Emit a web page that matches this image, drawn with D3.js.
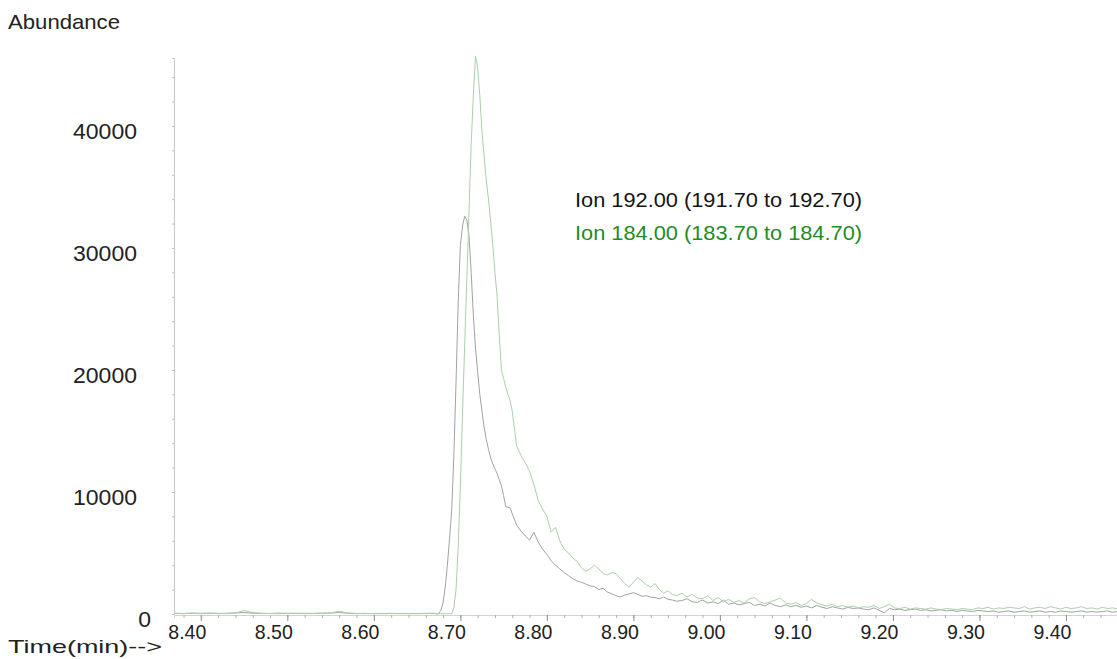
<!DOCTYPE html>
<html>
<head>
<meta charset="utf-8">
<script src="https://cdn.jsdelivr.net/npm/d3@7"></script>
<style>
  html, body { margin: 0; padding: 0; background: #fff; }
  svg { display: block; font-family: "Liberation Sans", Arial, sans-serif; }
</style>
</head>
<body>
<svg id="chart" width="1117" height="659"></svg>
<script>
// retention time grid (min), shared by both ion traces
const times = [
  8.370, 8.380, 8.390, 8.400, 8.410, 8.420, 8.430, 8.440, 8.450, 8.460,
  8.470, 8.480, 8.490, 8.500, 8.510, 8.520, 8.530, 8.540, 8.550, 8.560,
  8.570, 8.580, 8.590, 8.600, 8.610, 8.620, 8.630, 8.640, 8.650, 8.660, 8.670,
  8.6725, 8.675, 8.6775, 8.680, 8.6825, 8.685, 8.6875, 8.690, 8.6925, 8.695,
  8.6975, 8.700, 8.7025, 8.705, 8.7075, 8.710, 8.7125, 8.715, 8.7175, 8.720,
  8.7225, 8.725, 8.7275, 8.730, 8.7325, 8.735, 8.7375, 8.740, 8.7425, 8.745,
  8.7475, 8.750, 8.7525, 8.755, 8.7575, 8.760,
  8.765, 8.770, 8.775, 8.780, 8.785, 8.790, 8.795, 8.800, 8.805, 8.810,
  8.815, 8.820, 8.825, 8.830, 8.835, 8.840, 8.845, 8.850, 8.855, 8.860,
  8.865, 8.870, 8.875, 8.880, 8.885, 8.890, 8.895, 8.900, 8.905, 8.910,
  8.915, 8.920, 8.925, 8.930, 8.935, 8.940, 8.945, 8.950,
  8.956, 8.962, 8.968, 8.974, 8.980, 8.986, 8.992, 8.998, 9.004, 9.010,
  9.016, 9.022, 9.028, 9.034, 9.040, 9.046, 9.052, 9.058, 9.064, 9.070,
  9.076, 9.082, 9.088, 9.094, 9.100, 9.106, 9.112, 9.118, 9.124, 9.130,
  9.136, 9.142, 9.148, 9.154, 9.160, 9.166, 9.172, 9.178, 9.184, 9.190,
  9.196, 9.202, 9.208, 9.214, 9.220, 9.226, 9.232, 9.238, 9.244, 9.250,
  9.256, 9.262, 9.268, 9.274, 9.280, 9.286, 9.292, 9.298, 9.304, 9.310,
  9.316, 9.322, 9.328, 9.334, 9.340, 9.346, 9.352, 9.358, 9.364, 9.370,
  9.376, 9.382, 9.388, 9.394, 9.400, 9.406, 9.412, 9.418, 9.424, 9.430,
  9.436, 9.442, 9.448, 9.454, 9.460
];

// Ion 192.00 (black trace)
const ion192 = [
  60, 40, 80, 50, 70, 40, 60, 90, 120, 60,
  50, 40, 70, 50, 60, 40, 50, 70, 80, 120,
  60, 40, 50, 30, 40, 50, 40, 30, 40, 50, 60,
  0, 50, 300, 900, 2200, 4000, 6200, 8500, 13000, 19000,
  25500, 30200, 31800, 32600, 32300, 31000, 28000, 24500, 21800, 19800,
  18000, 16600, 15300, 14300, 13500, 12800, 12300, 11900, 11500, 11000,
  10500, 9700, 8800, 8750, 8700, 8200,
  7300, 6800, 6400, 6050, 6700, 5900, 5300, 4900, 4350, 4000,
  3700, 3400, 3150, 2900, 2700, 2600, 2450, 2300, 2250, 2000,
  2100, 1800, 1650, 1500, 1400, 1550, 1650, 1750, 1600, 1450,
  1500, 1380, 1350, 1250, 1400, 1200, 1150, 1050,
  1100, 1250, 1000, 950, 1150, 900, 1000, 850, 1150, 800,
  900, 750, 850, 950, 700, 800, 650, 900, 700, 600,
  750, 600, 700, 550, 650, 500, 700, 550, 450, 600,
  500, 400, 550, 450, 500, 400, 350, 500, 300, 100,
  450, 350, 400, 300, 350, 400, 300, 350, 250, 300,
  350, 250, 300, 200, 300, 250, 200, 300, 250, 200,
  250, 150, 200, 250, 150, 200, 250, 150, 200, 250,
  150, 200, 150, 250, 200, 150, 200, 250, 150, 200,
  150, 200, 250, 150, 200
];

// Ion 184.00 (green trace)
const ion184 = [
  40, 30, 50, 40, 60, 50, 40, 90, 280, 120,
  50, 40, 30, 50, 40, 60, 40, 50, 90, 230,
  80, 40, 30, 40, 30, 40, 30, 40, 30, 40, 30,
  30, 20, 30, 20, 30, 20, 30, 0, 500, 2000,
  5500, 10500, 16500, 22000, 27500, 33000, 38500, 42500, 45700, 44800,
  42500, 39500, 37500, 35500, 34000, 32200, 30200, 28000, 26000, 22800,
  20000, 19300, 18600, 18000, 17500, 16600,
  13800, 13000, 12400, 11700, 10600, 9300, 8600, 8000, 6700, 7100,
  6000, 5300, 5000, 4600, 4300, 3800, 3500, 3700, 4000, 3700,
  3300, 3200, 3400, 3300, 2900, 2500, 2200, 2600, 3000, 2700,
  2400, 2200, 2500, 2000, 1700, 1900, 1600, 1500,
  1700, 1400, 1600, 1300, 1250, 1500, 1100, 1350, 1000, 1200,
  950, 1100, 900, 1250, 1350, 1000, 850, 1000, 1150, 1300,
  900, 800, 950, 700, 850, 1200, 900, 750, 650, 800,
  600, 700, 550, 650, 500, 600, 550, 700, 450, 600,
  800, 500, 450, 550, 400, 500, 450, 400, 500, 400,
  350, 450, 400, 350, 450, 400, 350, 500, 450, 550,
  400, 500, 450, 550, 500, 450, 600, 400, 500, 550,
  450, 600, 500, 400, 550, 450, 500, 600, 450, 500,
  400, 550, 450, 500, 400
];

const legendLabels = ["Ion 192.00 (191.70 to 192.70)", "Ion 184.00 (183.70 to 184.70)"];
const seriesColors = ["#a2a2a2", "#abd0ab"];
const legendColors = ["#151515", "#1f8c1f"];

const xTickValues = [8.40, 8.50, 8.60, 8.70, 8.80, 8.90, 9.00, 9.10, 9.20, 9.30, 9.40];
const xTickLabels = ["8.40", "8.50", "8.60", "8.70", "8.80", "8.90", "9.00", "9.10", "9.20", "9.30", "9.40"];
const yTickValues = [0, 10000, 20000, 30000, 40000];
const yTickLabels = ["0", "10000", "20000", "30000", "40000"];

const svg = d3.select('#chart');
const fontFamily = '"Liberation Sans", Arial, sans-serif';

const x = d3.scaleLinear().domain([8.369, 9.459]).range([174, 1117]);
const y = d3.scaleLinear().domain([0, 45570]).range([614, 58]);

// minor ticks every 0.02 min / 2000 counts
const xMinor = d3.range(8.38, 9.459, 0.02);
const yMinor = d3.range(2000, 45570, 2000);

// x axis: minor ticks
svg.append('g')
    .attr('transform', `translate(0,${y(0) + 1})`)
    .call(d3.axisBottom(x).tickValues(xMinor).tickSize(3).tickFormat(''))
    .call(g => g.select('.domain').attr('stroke', '#cbd8cb'))
    .call(g => g.selectAll('.tick line').attr('stroke', '#b0b0b0'));

// x axis: major ticks + labels (text sits a bit left of its tick, like the original printout)
svg.append('g')
    .attr('transform', `translate(0,${y(0) + 1})`)
    .call(d3.axisBottom(x).tickValues(xTickValues).tickSize(6)
        .tickFormat((d, i) => xTickLabels[i]))
    .call(g => g.select('.domain').remove())
    .call(g => g.selectAll('.tick line').attr('stroke', '#909090'))
    .call(g => g.selectAll('.tick text')
        .attr('dx', -14).attr('y', 9)
        .attr('fill', '#222').attr('font-size', 21)
        .attr('textLength', 38).attr('lengthAdjust', 'spacingAndGlyphs')
        .attr('font-family', fontFamily));

// y axis
svg.append('g')
    .attr('transform', `translate(${x.range()[0]},0)`)
    .call(d3.axisLeft(y).tickValues(yMinor).tickSize(2).tickFormat(''))
    .call(g => g.select('.domain').attr('stroke', '#c8c8c8'))
    .call(g => g.selectAll('.tick line').attr('stroke', '#bdbdbd'));

svg.append('g')
    .selectAll('text')
    .data(yTickValues)
    .join('text')
    .attr('x', d => d === 0 ? 151 : 137)
    .attr('y', d => y(d) + 7)
    .attr('text-anchor', 'end')
    .attr('dominant-baseline', 'middle')
    .attr('font-size', 22)
    .attr('fill', '#222')
    .attr('textLength', (d, i) => yTickLabels[i].length * 12.8)
    .attr('lengthAdjust', 'spacingAndGlyphs')
    .text((d, i) => yTickLabels[i]);

// traces
const plot = svg.append('g');
const line = d3.line()
    .x((d, i) => x(times[i]))
    .y(d => y(d));

[ion192, ion184].forEach((series, k) => {
    plot.append('path')
        .datum(series)
        .attr('fill', 'none')
        .attr('stroke', seriesColors[k])
        .attr('stroke-width', 1)
        .attr('d', line);
});

// legend
svg.append('g')
    .selectAll('text')
    .data(legendLabels)
    .join('text')
    .attr('x', 575)
    .attr('y', (d, i) => 207 + i * 33)
    .attr('font-size', 20)
    .attr('textLength', 287)
    .attr('lengthAdjust', 'spacingAndGlyphs')
    .attr('fill', (d, i) => legendColors[i])
    .text(d => d);

// axis titles
svg.append('text')
    .attr('x', 8).attr('y', 29)
    .attr('font-size', 21).attr('fill', '#222')
    .attr('textLength', 112).attr('lengthAdjust', 'spacingAndGlyphs')
    .text('Abundance');

svg.append('text')
    .attr('x', 8).attr('y', 653)
    .attr('font-size', 19).attr('fill', '#222')
    .attr('textLength', 154).attr('lengthAdjust', 'spacingAndGlyphs')
    .text('Time(min)-->');
</script>
</body>
</html>
